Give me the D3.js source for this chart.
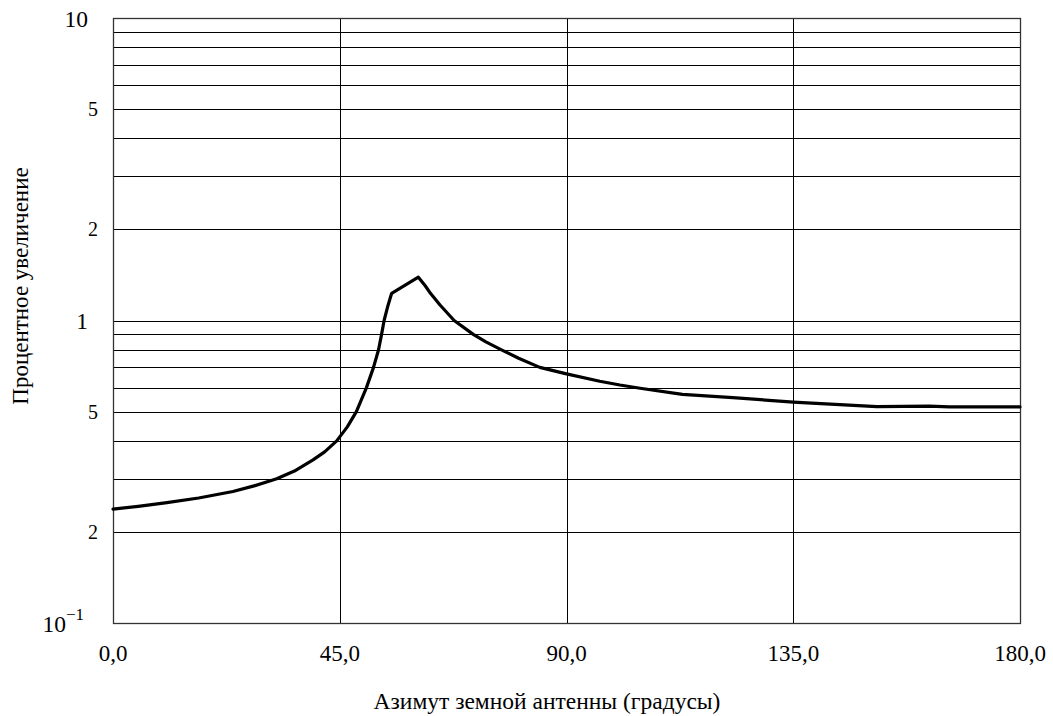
<!DOCTYPE html>
<html>
<head>
<meta charset="utf-8">
<script src="https://cdn.jsdelivr.net/npm/d3@7"></script>
<style>
  html, body { margin: 0; padding: 0; background: #fff; }
</style>
</head>
<body>
<svg id="chart" width="1053" height="716"></svg>
<script>
// Azimuth of the earth antenna, degrees
const azimuth = [0, 5, 10.7, 17, 23.8, 28, 32.5, 36, 39.7, 42, 44.4, 46.5, 48.3, 50.3, 51.7, 52.7,
  53.3, 53.8, 54.5, 55.3, 60.6, 62.0, 63.0, 64.9, 67.7, 71.5, 74.0, 77.1, 80.5, 84.7, 90.0,
  96.6, 100.6, 104.6, 113.0, 123.0, 135.0, 151.6, 162.0, 166.0, 180.0];
// Percentage increase
const increase = [0.238, 0.243, 0.25, 0.259, 0.272, 0.284, 0.30, 0.318, 0.346, 0.368, 0.40, 0.445, 0.50,
  0.60, 0.70, 0.80, 0.90, 1.00, 1.11, 1.23, 1.39, 1.30, 1.23, 1.125, 1.00, 0.90, 0.85, 0.80, 0.75,
  0.70, 0.666, 0.630, 0.612, 0.597, 0.570, 0.556, 0.537, 0.519, 0.521, 0.518, 0.518];

const xTicks = [0, 45, 90, 135, 180];
const xTickLabels = ["0,0", "45,0", "90,0", "135,0", "180,0"];
const yLabelValues = [10, 5, 2, 1, 0.5, 0.2, 0.1];
const yLabelTexts = ["10", "5", "2", "1", "5", "2", "10"];
const yLabelSups = ["", "", "", "", "", "", "\u22121"];
const yLabelMajor = [true, false, false, true, false, false, true];

const xTitle = "Азимут земной антенны (градусы)";
const yTitle = "Процентное увеличение";

const FONT = "'Liberation Serif', 'Times New Roman', Times, serif";
const margin = { left: 113, top: 18, right: 1020, bottom: 623 };

const svg = d3.select("#chart");
const x = d3.scaleLinear().domain([0, 180]).range([margin.left, margin.right]);
const y = d3.scaleLog().domain([0.1, 10]).range([margin.bottom, margin.top]);

// horizontal grid at every decade subdivision, vertical grid at the azimuth ticks
const grid = svg.append("g").attr("shape-rendering", "crispEdges")
  .attr("stroke", "#000").attr("stroke-width", 1);
grid.selectAll("line.h").data(y.ticks()).join("line")
  .attr("class", "h")
  .attr("x1", margin.left).attr("x2", margin.right)
  .attr("y1", d => Math.round(y(d)) + 0.5).attr("y2", d => Math.round(y(d)) + 0.5);
grid.selectAll("line.v").data(xTicks).join("line")
  .attr("class", "v")
  .attr("y1", margin.top).attr("y2", margin.bottom)
  .attr("x1", d => Math.round(x(d)) + 0.5).attr("x2", d => Math.round(x(d)) + 0.5);

// plot frame
svg.append("rect")
  .attr("x", margin.left + 0.5).attr("y", margin.top + 0.5)
  .attr("width", margin.right - margin.left).attr("height", margin.bottom - margin.top)
  .attr("fill", "none").attr("stroke", "#333").attr("stroke-width", 1.3);

// curve
const pts = azimuth.map((a, i) => [a, increase[i]]);
svg.append("path")
  .datum(pts)
  .attr("fill", "none").attr("stroke", "#000").attr("stroke-width", 3.2)
  .attr("stroke-linejoin", "round").attr("stroke-linecap", "round")
  .attr("d", d3.line().x(d => x(d[0])).y(d => y(d[1])));

// y tick labels
yLabelValues.forEach((v, i) => {
  const t = svg.append("text")
    .attr("font-family", FONT)
    .attr("x", yLabelMajor[i] ? (yLabelSups[i] ? 84 : 88) : 98)
    .attr("y", y(v) + (yLabelMajor[i] ? 8.5 : 7))
    .attr("text-anchor", "end")
    .attr("font-size", yLabelMajor[i] ? 23.5 : 20)
    .attr("fill", "#000");
  t.append("tspan").text(yLabelTexts[i]);
  if (yLabelSups[i]) {
    t.append("tspan").attr("font-size", 17).attr("dy", -12).text(yLabelSups[i]);
  }
});

// x tick labels
svg.selectAll("text.xt").data(xTicks).join("text")
  .attr("class", "xt")
  .attr("font-family", FONT)
  .attr("x", d => x(d)).attr("y", 661)
  .attr("text-anchor", "middle").attr("font-size", 23).attr("fill", "#000")
  .text((d, i) => xTickLabels[i]);

// axis titles
svg.append("text")
  .attr("font-family", FONT)
  .attr("x", 547).attr("y", 709)
  .attr("text-anchor", "middle").attr("font-size", 23.5).attr("fill", "#000")
  .text(xTitle);
svg.append("text")
  .attr("font-family", FONT)
  .attr("transform", "translate(28,286) rotate(-90)")
  .attr("text-anchor", "middle").attr("font-size", 23).attr("fill", "#000")
  .text(yTitle);
</script>
</body>
</html>
